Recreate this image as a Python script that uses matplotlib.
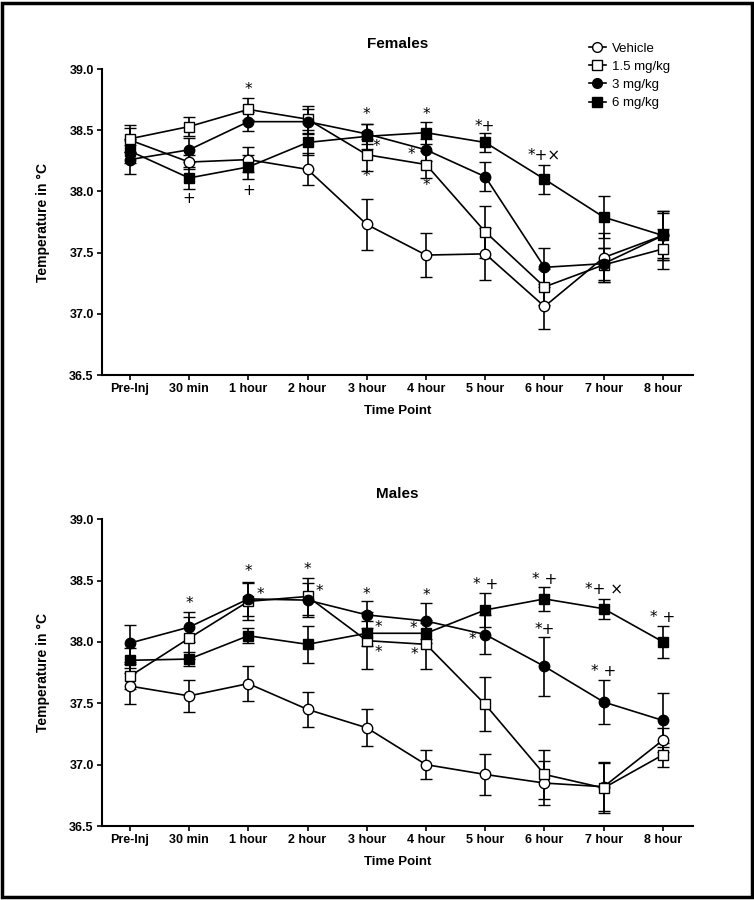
import matplotlib
matplotlib.use("Agg")
import matplotlib.pyplot as plt
from matplotlib.patches import Rectangle

plt.rcParams["font.family"] = ["Liberation Sans", "DejaVu Sans"]

time_points = ["Pre-Inj", "30 min", "1 hour", "2 hour", "3 hour",
               "4 hour", "5 hour", "6 hour", "7 hour", "8 hour"]
groups = ["Vehicle", "1.5 mg/kg", "3 mg/kg", "6 mg/kg"]

# females: mean temperature and SEM
fem_vehicle = [38.42, 38.24, 38.26, 38.18, 37.73, 37.48, 37.49, 37.06, 37.46, 37.64]
fem_vehicle_err = [0.10, 0.06, 0.10, 0.13, 0.21, 0.18, 0.21, 0.18, 0.20, 0.20]
fem_15 = [38.43, 38.53, 38.67, 38.59, 38.30, 38.22, 37.67, 37.22, 37.40, 37.53]
fem_15_err = [0.11, 0.08, 0.09, 0.11, 0.13, 0.11, 0.21, 0.15, 0.14, 0.16]
fem_3 = [38.26, 38.34, 38.57, 38.57, 38.47, 38.34, 38.12, 37.38, 37.41, 37.64]
fem_3_err = [0.12, 0.10, 0.08, 0.10, 0.08, 0.09, 0.12, 0.16, 0.13, 0.18]
fem_6 = [38.33, 38.11, 38.20, 38.40, 38.45, 38.48, 38.40, 38.10, 37.79, 37.64]
fem_6_err = [0.10, 0.09, 0.10, 0.10, 0.10, 0.09, 0.08, 0.12, 0.17, 0.20]

# males
mal_vehicle = [37.64, 37.56, 37.66, 37.45, 37.30, 37.00, 36.92, 36.85, 36.82, 37.20]
mal_vehicle_err = [0.15, 0.13, 0.14, 0.14, 0.15, 0.12, 0.17, 0.18, 0.20, 0.10]
mal_15 = [37.72, 38.03, 38.33, 38.37, 38.01, 37.98, 37.49, 36.92, 36.81, 37.08]
mal_15_err = [0.10, 0.17, 0.15, 0.15, 0.23, 0.20, 0.22, 0.20, 0.20, 0.10]
mal_3 = [37.99, 38.12, 38.35, 38.34, 38.22, 38.17, 38.06, 37.80, 37.51, 37.36]
mal_3_err = [0.15, 0.12, 0.14, 0.14, 0.11, 0.15, 0.16, 0.24, 0.18, 0.22]
mal_6 = [37.85, 37.86, 38.05, 37.98, 38.07, 38.07, 38.26, 38.35, 38.27, 38.00]
mal_6_err = [0.10, 0.06, 0.06, 0.15, 0.10, 0.08, 0.14, 0.10, 0.08, 0.13]

# significance marks: (time index, temperature, text)
fem_marks = [(1, 37.94, "+"), (2, 38.83, "*"), (2, 38.01, "+"),
             (4, 38.63, "*"), (4.17, 38.37, "*"), (4, 38.12, "*"),
             (5, 38.63, "*"), (4.76, 38.30, "*"), (5, 38.05, "*"),
             (6, 38.53, "*+"), (7, 38.29, "*+×")]
mal_marks = [(1, 38.31, "*"), (2, 38.57, "*"), (2.2, 38.39, "*"),
             (3, 38.59, "*"), (3.2, 38.41, "*"),
             (4, 38.39, "*"), (4.19, 38.12, "*"), (4.19, 37.91, "*"),
             (5, 38.38, "*"), (4.78, 38.11, "*"), (4.8, 37.90, "*"),
             (6, 38.47, "* +"), (5.78, 38.02, "*"),
             (7, 38.51, "* +"), (7, 38.10, "*+"),
             (8, 38.43, "*+ ×"), (8, 37.76, "* +"), (9, 38.20, "* +")]

styles = [("o", "white"), ("s", "white"), ("o", "black"), ("s", "black")]

fig = plt.figure(figsize=(7.54, 9.0), dpi=100)
fig.patches.append(Rectangle((0.003, 0.003), 0.994, 0.994, transform=fig.transFigure,
                             fill=False, edgecolor="black", linewidth=2.5))


def panel(rect, title, series, errs, marks):
    ax = fig.add_axes(rect)
    x = list(range(len(time_points)))
    for vals, err, (mk, fc), name in zip(series, errs, styles, groups):
        ax.errorbar(x, vals, yerr=err, color="black", marker=mk, mfc=fc, mec="black",
                    ms=7.5, lw=1.2, elinewidth=1.2, capsize=4.5, capthick=1.2,
                    mew=1.0, label=name)
    for mx, my, txt in marks:
        ax.text(mx, my, txt, ha="center", va="center", fontsize=11,
                family=["DejaVu Sans"])
    ax.set_xlim(-0.47, 9.51)
    ax.set_ylim(36.5, 39.0)
    yt = [36.5, 37.0, 37.5, 38.0, 38.5, 39.0]
    ax.set_yticks(yt)
    ax.set_yticklabels(["%.1f" % v for v in yt])
    ax.set_xticks(x)
    ax.set_xticklabels(time_points)
    for lab in ax.get_xticklabels() + ax.get_yticklabels():
        lab.set_fontweight("bold")
        lab.set_fontsize(9)
    ax.tick_params(direction="out", length=3.5, width=1.2, pad=2.5)
    ax.spines["top"].set_visible(False)
    ax.spines["right"].set_visible(False)
    ax.spines["left"].set_linewidth(1.5)
    ax.spines["bottom"].set_linewidth(1.5)
    ax.set_title(title, fontsize=11, fontweight="bold", pad=15)
    ax.set_xlabel("Time Point", fontsize=9.5, fontweight="bold", labelpad=7)
    ax.set_ylabel("Temperature in °C", fontsize=10, fontweight="bold", labelpad=14)
    return ax


ax1 = panel([0.1353, 0.5833, 0.784, 0.34], "Females",
            [fem_vehicle, fem_15, fem_3, fem_6],
            [fem_vehicle_err, fem_15_err, fem_3_err, fem_6_err], fem_marks)
ax2 = panel([0.1353, 0.0822, 0.784, 0.341], "Males",
            [mal_vehicle, mal_15, mal_3, mal_6],
            [mal_vehicle_err, mal_15_err, mal_3_err, mal_6_err], mal_marks)

leg_handles = [plt.Line2D([], [], color="black", marker=mk, mfc=fc, mec="black",
                          ms=7, lw=1.2) for mk, fc in styles]
fig.legend(leg_handles, groups, loc="upper left", bbox_to_anchor=(0.765, 0.966),
           frameon=False, fontsize=9.5, handlelength=1.3, handletextpad=0.5,
           labelspacing=0.45)

fig.savefig("out.png", dpi=100)
